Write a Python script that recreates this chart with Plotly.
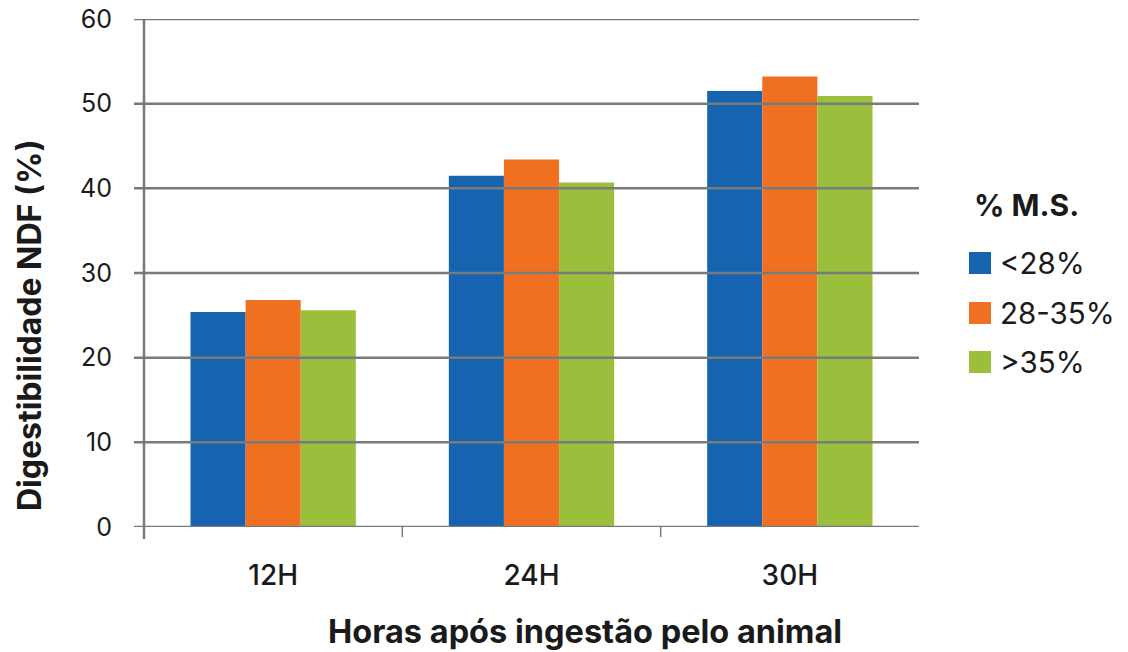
import plotly.graph_objects as go

# Hours after ingestion and NDF digestibility (%) by dry-matter class
categories = ["12H", "24H", "30H"]
series_names = ["<28%", "28-35%", ">35%"]
dm_below_28 = [25.4, 41.5, 51.5]
dm_28_35 = [26.8, 43.4, 53.2]
dm_above_35 = [25.6, 40.7, 50.9]
y_ticks = [0, 10, 20, 30, 40, 50, 60]

colors = ["#1664b0", "#f07022", "#9bbf3c"]
series_values = [dm_below_28, dm_28_35, dm_above_35]

FONT = "Inter, Liberation Sans, Arial, sans-serif"
TEXT = "#1a1a1a"
GRID = "#7a7a7a"

W, H = 1128, 652
L, R, T, B = 144, 209, 19, 125
PW, PH = W - L - R, H - T - B


def px_x(px):
    # figure pixel -> plot paper x
    return (px - L) / PW


def px_y(py):
    # figure pixel -> plot paper y
    return (H - B - py) / PH


fig = go.Figure()
for name, vals, col in zip(series_names, series_values, colors):
    fig.add_trace(go.Bar(x=categories, y=vals, name=name, marker_color=col,
                         marker_line_width=0, showlegend=False))

shapes = []
# horizontal gridlines drawn over the bars, extending left as tick marks
for v in y_ticks:
    shapes.append(dict(type="line", layer="above", xref="paper", yref="y",
                       x0=px_x(134), x1=1.0, y0=v, y1=v,
                       line=dict(color=GRID, width=2.5)))
# vertical value axis line
shapes.append(dict(type="line", layer="above", xref="paper", yref="paper",
                   x0=0, x1=0, y0=px_y(539), y1=1.0,
                   line=dict(color=GRID, width=2.5)))
# category separator ticks
for k in range(len(categories) - 1):
    shapes.append(dict(type="line", layer="above", xref="x", yref="paper",
                       x0=k + 0.5, x1=k + 0.5, y0=0, y1=px_y(537),
                       line=dict(color=GRID, width=1.5)))

annotations = [
    # axis titles
    dict(text="<b>Horas após ingestão pelo animal</b>", x=px_x(585), y=px_y(631),
         xref="paper", yref="paper", xanchor="center", yanchor="middle", showarrow=False,
         font=dict(family=FONT, size=32.5, color=TEXT)),
    dict(text="<b>Digestibilidade NDF (%)</b>", x=px_x(29), y=px_y(325), textangle=-90,
         xref="paper", yref="paper", xanchor="center", yanchor="middle", showarrow=False,
         font=dict(family=FONT, size=32, color=TEXT)),
    # legend title
    dict(text="<b>% M.S.</b>", x=px_x(972), y=px_y(205), xref="paper", yref="paper",
         xanchor="left", yanchor="middle", showarrow=False,
         font=dict(family=FONT, size=30, color=TEXT)),
]

# legend built from swatches and labels
legend_rows_y = [263, 313, 362]
for name, col, yy in zip(series_names, colors, legend_rows_y):
    shapes.append(dict(type="rect", xref="paper", yref="paper",
                       x0=px_x(969), x1=px_x(991),
                       y0=px_y(yy + 11), y1=px_y(yy - 11),
                       fillcolor=col, line_width=0))
    annotations.append(dict(text=name, x=px_x(998), y=px_y(yy),
                            xref="paper", yref="paper", xanchor="left", yanchor="middle",
                            showarrow=False, font=dict(family=FONT, size=29.5, color=TEXT)))

fig.update_layout(
    width=W, height=H,
    margin=dict(l=L, r=R, t=T, b=B, autoexpand=False),
    paper_bgcolor="white", plot_bgcolor="white",
    barmode="group", bargap=0.36, bargroupgap=0,
    shapes=shapes, annotations=annotations,
    font=dict(family=FONT, color=TEXT),
    xaxis=dict(showgrid=False, showline=False, ticks="", zeroline=False, automargin=False,
               tickfont=dict(family=FONT, size=28, color=TEXT, weight=500),
               ticklabelstandoff=29),
    yaxis=dict(range=[0, 60], tickvals=y_ticks, showgrid=False, zeroline=False,
               showline=False, ticks="", ticklabelstandoff=31, automargin=False,
               tickfont=dict(family=FONT, size=25, color=TEXT)),
)

fig.write_html("out.html")
